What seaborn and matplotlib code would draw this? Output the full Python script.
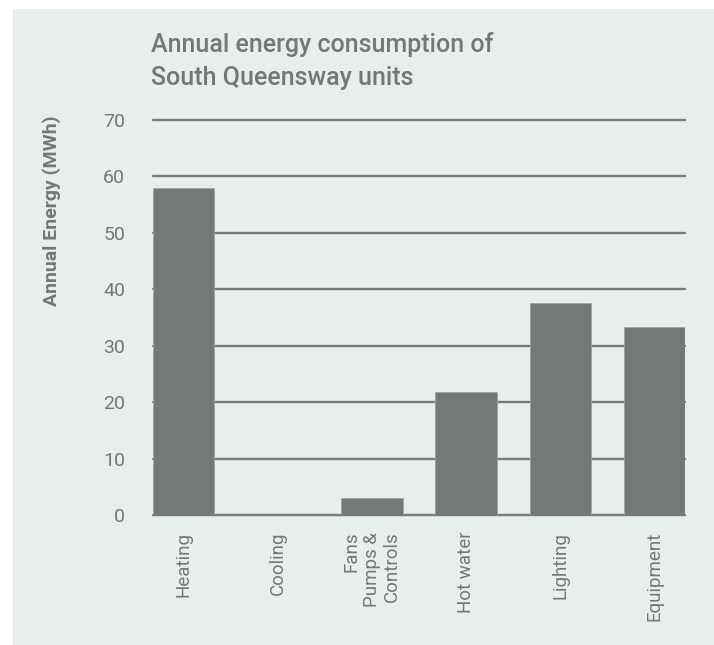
import matplotlib
matplotlib.use("Agg")
import matplotlib.pyplot as plt
import seaborn as sns
import pandas as pd

categories = ["Heating", "Cooling", "Fans\nPumps &\nControls", "Hot water", "Lighting", "Equipment"]
values = [58.0, 0.0, 3.0, 21.8, 37.6, 33.3]
yticks = [0, 10, 20, 30, 40, 50, 60, 70]

BG = "#e8eeec"
BAR = "#747876"
GRID = "#777c79"
TXT = "#737874"

sns.set_theme(style="whitegrid")
plt.rcParams['font.family'] = ['Roboto', 'DejaVu Sans']

fig = plt.figure(figsize=(7.14, 6.45), dpi=100, facecolor="white")
fig.patches.append(matplotlib.patches.Rectangle((13/714, 0), 1, 1 - 9/645,
                   transform=fig.transFigure, facecolor=BG, edgecolor="none", zorder=-10))
ax = fig.add_axes([153/714, 1 - 515/645, 532/714, 395/645])
ax.set_facecolor(BG)

df = pd.DataFrame({"category": categories, "value": values})
sns.barplot(data=df, x="category", y="value", color=BAR, saturation=1, width=0.65,
            edgecolor="#9ea3a0", linewidth=0.6, ax=ax, zorder=3)

ax.set_ylim(0, 70)
ax.set_xlim(-0.325, 5.325)
ax.set_yticks(yticks)
ax.set_yticklabels([str(t) for t in yticks])
ax.grid(False)
for t in yticks:
    ax.axhline(t, color=GRID, linewidth=1.7, zorder=1, clip_on=False)
for s in ax.spines.values():
    s.set_visible(False)
ax.tick_params(axis="both", length=0, colors=TXT)
ax.tick_params(axis="y", labelsize=14, pad=20)
ax.tick_params(axis="x", labelsize=13.5, pad=12)
for lbl in ax.get_xticklabels():
    lbl.set_rotation(90)
    lbl.set_va("top")
    lbl.set_ha("center")
    lbl.set_multialignment("right")
    lbl.set_linespacing(1.15)
    lbl.set_color(TXT)
for lbl in ax.get_yticklabels():
    lbl.set_color(TXT)
ax.set_xlabel("")
ax.set_ylabel("")

fig.text(52/714, 1 - 211/645, "Annual Energy (MWh)", rotation=90, ha="center", va="center",
         fontsize=14, fontweight="bold", color=TXT)
fig.text(151/714, 1 - 32/645, "Annual energy consumption of\nSouth Queensway units",
         ha="left", va="top", fontsize=18, fontweight="medium", color=TXT, linespacing=1.5)

fig.savefig("out.png", dpi=100, facecolor="white")
